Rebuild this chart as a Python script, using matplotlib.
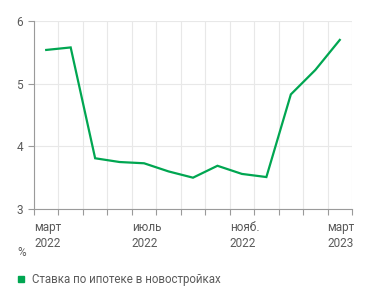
import matplotlib
matplotlib.use("Agg")
import matplotlib.pyplot as plt
from matplotlib.patches import Rectangle

# monthly mortgage rate in new buildings, %, March 2022 - March 2023
months = ["март\n2022", "", "", "", "июль\n2022", "", "", "", "нояб.\n2022", "", "", "", "март\n2023"]
rate = [5.54, 5.58, 3.81, 3.75, 3.73, 3.60, 3.50, 3.69, 3.56, 3.51, 4.83, 5.22, 5.70]
y_ticks = [3, 4, 5, 6]
series_name = "Ставка по ипотеке в новостройках"

green = "#00a651"
text_col = "#5a5a5a"
grid_col = "#e8e8e8"
axis_col = "#9a9a9a"

plt.rcParams["font.family"] = ["Roboto", "DejaVu Sans"]

fig = plt.figure(figsize=(3.71, 3.02), dpi=100)
ax = fig.add_axes([0.0916, 0.308, 0.8572, 0.622])

x = [i + 0.5 for i in range(len(rate))]
ax.plot(x, rate, color=green, lw=1.6, solid_joinstyle="miter")

ax.set_xlim(0, len(rate))
ax.set_ylim(3, 6)
ax.set_xticks(range(len(rate) + 1))
ax.set_xticklabels(months + [""], ha="left", fontsize=8.5, color=text_col, linespacing=1.3)
ax.set_yticks(y_ticks)
ax.set_yticklabels([str(v) for v in y_ticks], fontsize=8.5, color=text_col)

ax.grid(True, color=grid_col, lw=0.8)
ax.set_axisbelow(True)
for side in ["top", "right"]:
    ax.spines[side].set_visible(False)
for side in ["left", "bottom"]:
    ax.spines[side].set_color(axis_col)
    ax.spines[side].set_linewidth(0.8)
ax.tick_params(axis="x", length=4, color=axis_col, pad=5)
ax.tick_params(axis="y", length=4, color=axis_col, pad=4)

fig.text(0.048, 0.163, "%", fontsize=8.5, color=text_col, va="center", ha="left")
fig.patches.append(Rectangle((18 / 371, 20 / 302), 6 / 371, 6 / 302,
                             transform=fig.transFigure, color=green))
fig.text(0.086, 0.076, series_name, fontsize=8.3, color=text_col, va="center", ha="left")

fig.savefig("out.png", dpi=100)
